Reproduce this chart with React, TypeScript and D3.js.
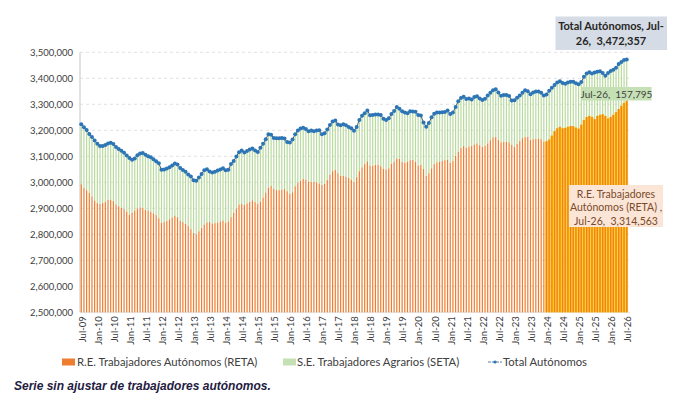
import React from 'react';
import * as d3 from 'd3';

// Serie mensual desde Jul-09 hasta Jul-26 (valores en miles)
const START_YEAR = 2009;
const START_MONTH = 6; // julio (base 0)
const MONTH_ABBR = ['Jan', 'Feb', 'Mar', 'Apr', 'May', 'Jun', 'Jul', 'Aug', 'Sep', 'Oct', 'Nov', 'Dec'];

// Total Autónomos (miles)
const totalK = [
  3223, 3212, 3201, 3186, 3174, 3161,
  3148, 3140, 3140, 3143, 3149, 3152, 3147, 3136, 3128, 3121, 3114, 3103,
  3093, 3087, 3092, 3104, 3111, 3113, 3106, 3100, 3096, 3089, 3081, 3073,
  3048, 3049, 3053, 3058, 3065, 3072, 3068, 3055, 3047, 3041, 3030, 3022,
  3008, 3006, 3018, 3032, 3046, 3050, 3042, 3038, 3041, 3045, 3049, 3054,
  3046, 3048, 3070, 3082, 3099, 3116, 3122, 3115, 3120, 3126, 3130, 3122,
  3117, 3133, 3148, 3166, 3185, 3183, 3170, 3169, 3169, 3170, 3168, 3155,
  3153, 3165, 3185, 3199, 3207, 3210, 3205, 3196, 3199, 3196, 3199, 3200,
  3185, 3189, 3203, 3220, 3234, 3238, 3222, 3219, 3223, 3219, 3213, 3208,
  3198, 3213, 3240, 3256, 3266, 3276, 3258, 3259, 3261, 3261, 3259, 3244,
  3240, 3246, 3263, 3274, 3290, 3283, 3273, 3268, 3266, 3273, 3272, 3271,
  3259, 3257, 3230, 3214, 3228, 3250, 3264, 3268, 3268, 3269, 3270, 3276,
  3263, 3268, 3290, 3312, 3324, 3329, 3320, 3322, 3318, 3328, 3331, 3322,
  3317, 3321, 3334, 3344, 3354, 3358, 3345, 3333, 3336, 3336, 3332, 3315,
  3316, 3325, 3334, 3344, 3354, 3350, 3339, 3345, 3349, 3349, 3344, 3334,
  3338, 3352, 3364, 3374, 3384, 3389, 3382, 3379, 3384, 3387, 3387, 3381,
  3377, 3386, 3406, 3418, 3423, 3418, 3422, 3425, 3427, 3420, 3410, 3420,
  3428, 3433, 3441, 3455, 3463, 3470, 3472.357,
];

// R.E. Trabajadores Autónomos (RETA) (miles)
const retaK = [
  2993, 2978, 2970, 2960, 2946, 2930,
  2920, 2917, 2920, 2925, 2932, 2934, 2928, 2915, 2908, 2903, 2897, 2888,
  2876, 2884, 2892, 2900, 2904, 2901, 2894, 2892, 2887, 2881, 2874, 2862,
  2845, 2847, 2852, 2858, 2865, 2872, 2866, 2852, 2847, 2840, 2833, 2820,
  2806, 2800, 2812, 2825, 2838, 2846, 2847, 2842, 2843, 2845, 2850, 2853,
  2845, 2850, 2866, 2883, 2900, 2915, 2917, 2913, 2919, 2925, 2931, 2924,
  2918, 2926, 2942, 2961, 2980, 2986, 2976, 2970, 2970, 2972, 2974, 2966,
  2955, 2962, 2985, 2998, 3006, 3013, 3011, 3003, 3002, 3002, 3000, 2996,
  2990, 2995, 3010, 3030, 3043, 3049, 3035, 3026, 3025, 3022, 3018, 3011,
  3002, 3020, 3043, 3058, 3070, 3081, 3064, 3064, 3067, 3068, 3062, 3053,
  3050, 3054, 3072, 3080, 3092, 3091, 3078, 3076, 3080, 3085, 3086, 3080,
  3065, 3068, 3052, 3025, 3035, 3054, 3070, 3077, 3080, 3082, 3085, 3088,
  3075, 3082, 3102, 3118, 3132, 3140, 3134, 3138, 3140, 3146, 3150, 3143,
  3136, 3140, 3150, 3162, 3173, 3175, 3164, 3154, 3156, 3156, 3154, 3145,
  3136, 3148, 3160, 3170, 3174, 3176, 3164, 3166, 3168, 3169, 3166, 3157,
  3158, 3165, 3180, 3197, 3208, 3214, 3208, 3210, 3214, 3217, 3216, 3211,
  3207, 3222, 3240, 3251, 3256, 3252, 3243, 3255, 3260, 3262, 3256, 3246,
  3252, 3260, 3270, 3282, 3295, 3306, 3314.563,
];

const yTicks = [2500000, 2600000, 2700000, 2800000, 2900000, 3000000, 3100000, 3200000, 3300000, 3400000, 3500000];
const highlightFrom = 'Jan-24'; // desde aquí las barras RETA van en dorado

const months: string[] = totalK.map((_, i) => {
  const k = START_MONTH + i;
  const yr = START_YEAR + Math.floor(k / 12);
  return `${MONTH_ABBR[k % 12]}-${String(yr % 100).padStart(2, '0')}`;
});

const rows = months.map((m, i) => ({
  month: m,
  reta: retaK[i] * 1000,
  seta: (totalK[i] - retaK[i]) * 1000,
  total: totalK[i] * 1000,
}));

const W = 687;
const H = 412;
const plot = { left: 80, right: 628, top: 52.3, bottom: 312.3 };
const FONT = 'Lato, "Open Sans", sans-serif';
const fmt = d3.format(',');
const pre = { whiteSpace: 'pre' as const };

export default function App() {
  const x = d3.scaleBand<string>().domain(months).range([plot.left, plot.right]).paddingInner(0.55).paddingOuter(0.25);
  const y = d3.scaleLinear().domain([2500000, 3500000]).range([plot.bottom, plot.top]);
  const bw = x.bandwidth();
  const step = x.step();
  const cx = (m: string) => (x(m) as number) + bw / 2;
  const hiIdx = months.indexOf(highlightFrom);
  const base = y.domain()[0];

  const stacked = d3.stack<typeof rows[number]>().keys(['reta', 'seta'])(rows);
  const line = d3.line<typeof rows[number]>().x((d) => cx(d.month)).y((d) => y(d.total));

  return (
    <svg width={W} height={H} style={{ position: 'absolute', left: 0, top: 0, background: '#fff' }} fontFamily={FONT}>
      {/* rejilla */}
      {yTicks.map((t) => (
        <line key={t} x1={plot.left} x2={plot.right + 2} y1={y(t)} y2={y(t)} stroke="#d9d9d9" strokeWidth={0.8}
          strokeDasharray={t === base ? undefined : '3,3'} />
      ))}
      {yTicks.map((t) => (
        <text key={'l' + t} x={73} y={y(t)} dy="0.35em" textAnchor="end" fontSize={9.5} fill="#404040">{fmt(t)}</text>
      ))}
      <line x1={plot.left} x2={plot.left} y1={plot.top} y2={plot.bottom} stroke="#d9d9d9" strokeWidth={1.5} />

      {/* fondo dorado para los meses destacados */}
      {rows.map((d, i) => i >= hiIdx ? (
        <rect key={'g' + i} x={(x(d.month) as number) - (step - bw) / 2} width={step} y={y(d.reta)} height={y(base) - y(d.reta)} fill="#ffc000" />
      ) : null)}
      {/* RETA */}
      {stacked[0].map((s, i) => (
        <rect key={'r' + i} x={x(rows[i].month)} width={bw} y={y(s[1])} height={y(base) - y(s[1])} fill="#ed7d31" />
      ))}
      {/* SETA */}
      {stacked[1].map((s, i) => (
        <rect key={'s' + i} x={x(rows[i].month)} width={bw} y={y(s[1])} height={y(s[0]) - y(s[1])} fill="#b9da9f" />
      ))}

      {/* Total */}
      <path d={line(rows) ?? ''} fill="none" stroke="#3b4a5c" strokeWidth={0.9} />
      {rows.map((d, i) => (
        <circle key={'c' + i} cx={cx(d.month)} cy={y(d.total)} r={2} fill="#2e75b6" />
      ))}

      {/* eje X */}
      {months.map((m, i) => i % 6 === 0 ? (
        <text key={'x' + m} transform={`translate(${cx(m) + 1},${plot.bottom + 4}) rotate(-90)`} textAnchor="end" dy="0.35em"
          fontSize={9.5} fill="#404040">{m}</text>
      ) : null)}

      {/* etiquetas */}
      <rect x={555.5} y={16.5} width={111.5} height={33.5} fill="#d6dce5" />
      <text x={611} y={30} textAnchor="middle" fontSize={11} fontWeight="bold" fill="#262626" style={pre}>Total Autónomos, Jul-</text>
      <text x={611} y={45} textAnchor="middle" fontSize={11} fontWeight="bold" fill="#262626" style={pre}>{`26,  ${fmt(3472357)}`}</text>

      <rect x={581.5} y={87} width={70} height={13.5} fill="#c5e0b4" />
      <text x={616.5} y={97.5} textAnchor="middle" fontSize={10} fill="#404040" style={pre}>{`Jul-26,  ${fmt(157795)}`}</text>

      <rect x={569} y={185} width={94} height={42} fill="#fbe5d6" />
      <text x={616} y={198} textAnchor="middle" fontSize={10.5} fill="#7a4a2a">R.E. Trabajadores</text>
      <text x={616} y={211} textAnchor="middle" fontSize={10.5} fill="#7a4a2a">Autónomos (RETA) ,</text>
      <text x={616} y={224.5} textAnchor="middle" fontSize={10.5} fill="#7a4a2a" style={pre}>{`Jul-26,  ${fmt(3314563)}`}</text>

      {/* leyenda */}
      <rect x={62} y={358.5} width={13} height={7} fill="#ed7d31" />
      <text x={77} y={366} fontSize={11.3} fill="#404040">R.E. Trabajadores Autónomos (RETA)</text>
      <rect x={283} y={358.5} width={13} height={7} fill="#c5e0b4" />
      <text x={297} y={366} fontSize={11.3} fill="#404040">S.E. Trabajadores Agrarios (SETA)</text>
      <line x1={488} x2={502} y1={362} y2={362} stroke="#5b7fa8" strokeWidth={1.2} strokeDasharray="3,1" />
      <circle cx={495} cy={362} r={1.6} fill="#2e75b6" />
      <text x={503} y={366} fontSize={11.3} fill="#404040">Total Autónomos</text>

      <text x={14} y={390} fontFamily='"Liberation Sans", Arial, sans-serif' fontStyle="italic" fontWeight="bold" fontSize={12} fill="#1f2041">
        Serie sin ajustar de trabajadores autónomos.
      </text>
    </svg>
  );
}
